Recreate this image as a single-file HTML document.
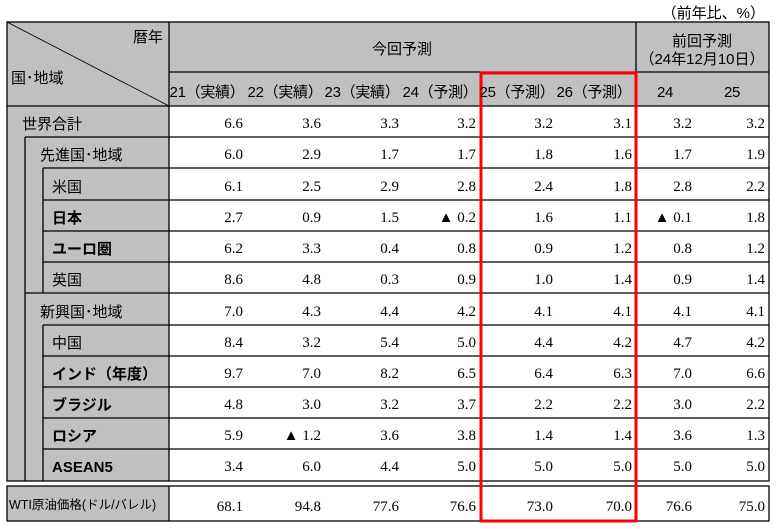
<!DOCTYPE html>
<html><head><meta charset="utf-8"><style>
html,body{margin:0;padding:0;background:#fff;}
svg{display:block;}
.j{font-family:"Liberation Sans","Noto Sans CJK JP",sans-serif;font-size:15px;fill:#000;}
.b{font-weight:bold;}
.n{font-family:"Liberation Serif","Noto Serif CJK SC",serif;font-size:15px;fill:#000;text-anchor:end;}
</style></head><body>
<svg width="779" height="529" viewBox="0 0 779 529" xmlns="http://www.w3.org/2000/svg">
<rect x="7" y="22" width="762" height="84" fill="#c0c0c0"/>
<rect x="7" y="106" width="162" height="375" fill="#c0c0c0"/>
<rect x="7" y="486" width="162" height="35" fill="#c0c0c0"/>
<g stroke="#000" stroke-width="1.3" fill="none">
<rect x="7" y="22" width="762" height="459"/>
<rect x="7" y="486" width="762" height="35"/>
<line x1="169" y1="22" x2="169" y2="481"/>
<line x1="169" y1="486" x2="169" y2="521"/>
<line x1="636" y1="22" x2="636" y2="481"/>
<line x1="636" y1="486" x2="636" y2="521"/>
<line x1="169" y1="72" x2="769" y2="72"/>
<line x1="7" y1="106" x2="769" y2="106"/>
<line x1="7" y1="22" x2="169" y2="106" stroke-width="0.8"/>
<line x1="25" y1="137" x2="25" y2="481"/>
<line x1="43" y1="168" x2="43" y2="293"/>
<line x1="43" y1="325" x2="43" y2="481"/>
<line x1="25" y1="137" x2="769" y2="137"/>
<line x1="43" y1="168" x2="769" y2="168"/>
<line x1="43" y1="200" x2="769" y2="200"/>
<line x1="43" y1="231" x2="769" y2="231"/>
<line x1="43" y1="262" x2="769" y2="262"/>
<line x1="25" y1="293" x2="769" y2="293"/>
<line x1="43" y1="325" x2="769" y2="325"/>
<line x1="43" y1="356" x2="769" y2="356"/>
<line x1="43" y1="387" x2="769" y2="387"/>
<line x1="43" y1="418" x2="769" y2="418"/>
<line x1="43" y1="449" x2="769" y2="449"/>
</g>
<rect x="481" y="73" width="155" height="448" fill="none" stroke="#f00" stroke-width="3"/>
<text class="j" x="765" y="18" text-anchor="end">（前年比、%）</text>
<text class="j" x="163" y="42" text-anchor="end">暦年</text>
<text class="j" x="11" y="83">国･地域</text>
<text class="j" x="402" y="54" text-anchor="middle">今回予測</text>
<text class="j" x="702" y="46" text-anchor="middle">前回予測</text>
<text class="j" x="702" y="64" text-anchor="middle">（24年12月10日）</text>
<g class="j" text-anchor="middle" style="letter-spacing:-0.3px">
<text x="207" y="97">21（実績）</text>
<text x="285" y="97">22（実績）</text>
<text x="362" y="97">23（実績）</text>
<text x="440" y="97">24（予測）</text>
<text x="517" y="97">25（予測）</text>
<text x="594" y="97">26（予測）</text>
<text x="665" y="97">24</text>
<text x="732" y="97">25</text>
</g>
<g class="j">
<text x="22" y="129">世界合計</text>
<text x="40" y="160">先進国･地域</text>
<text x="52" y="192">米国</text>
<text class="j b" x="52" y="223">日本</text>
<text class="j b" x="52" y="254">ユーロ圏</text>
<text x="52" y="285">英国</text>
<text x="40" y="317">新興国･地域</text>
<text x="52" y="348">中国</text>
<text class="j b" x="52" y="379">インド（年度）</text>
<text class="j b" x="52" y="410">ブラジル</text>
<text class="j b" x="52" y="441">ロシア</text>
<text class="j b" x="52" y="472">ASEAN5</text>
<text x="9" y="509" style="font-size:12.5px">WTI原油価格(ドル/バレル)</text>
</g>
<g class="n">
<text y="128"><tspan x="243">6.6</tspan><tspan x="321">3.6</tspan><tspan x="399">3.3</tspan><tspan x="476">3.2</tspan><tspan x="553">3.2</tspan><tspan x="632">3.1</tspan><tspan x="692">3.2</tspan><tspan x="765">3.2</tspan></text>
<text y="159"><tspan x="243">6.0</tspan><tspan x="321">2.9</tspan><tspan x="399">1.7</tspan><tspan x="476">1.7</tspan><tspan x="553">1.8</tspan><tspan x="632">1.6</tspan><tspan x="692">1.7</tspan><tspan x="765">1.9</tspan></text>
<text y="191"><tspan x="243">6.1</tspan><tspan x="321">2.5</tspan><tspan x="399">2.9</tspan><tspan x="476">2.8</tspan><tspan x="553">2.4</tspan><tspan x="632">1.8</tspan><tspan x="692">2.8</tspan><tspan x="765">2.2</tspan></text>
<text y="222"><tspan x="243">2.7</tspan><tspan x="321">0.9</tspan><tspan x="399">1.5</tspan><tspan x="476">▲ 0.2</tspan><tspan x="553">1.6</tspan><tspan x="632">1.1</tspan><tspan x="692">▲ 0.1</tspan><tspan x="765">1.8</tspan></text>
<text y="253"><tspan x="243">6.2</tspan><tspan x="321">3.3</tspan><tspan x="399">0.4</tspan><tspan x="476">0.8</tspan><tspan x="553">0.9</tspan><tspan x="632">1.2</tspan><tspan x="692">0.8</tspan><tspan x="765">1.2</tspan></text>
<text y="284"><tspan x="243">8.6</tspan><tspan x="321">4.8</tspan><tspan x="399">0.3</tspan><tspan x="476">0.9</tspan><tspan x="553">1.0</tspan><tspan x="632">1.4</tspan><tspan x="692">0.9</tspan><tspan x="765">1.4</tspan></text>
<text y="316"><tspan x="243">7.0</tspan><tspan x="321">4.3</tspan><tspan x="399">4.4</tspan><tspan x="476">4.2</tspan><tspan x="553">4.1</tspan><tspan x="632">4.1</tspan><tspan x="692">4.1</tspan><tspan x="765">4.1</tspan></text>
<text y="347"><tspan x="243">8.4</tspan><tspan x="321">3.2</tspan><tspan x="399">5.4</tspan><tspan x="476">5.0</tspan><tspan x="553">4.4</tspan><tspan x="632">4.2</tspan><tspan x="692">4.7</tspan><tspan x="765">4.2</tspan></text>
<text y="378"><tspan x="243">9.7</tspan><tspan x="321">7.0</tspan><tspan x="399">8.2</tspan><tspan x="476">6.5</tspan><tspan x="553">6.4</tspan><tspan x="632">6.3</tspan><tspan x="692">7.0</tspan><tspan x="765">6.6</tspan></text>
<text y="409"><tspan x="243">4.8</tspan><tspan x="321">3.0</tspan><tspan x="399">3.2</tspan><tspan x="476">3.7</tspan><tspan x="553">2.2</tspan><tspan x="632">2.2</tspan><tspan x="692">3.0</tspan><tspan x="765">2.2</tspan></text>
<text y="440"><tspan x="243">5.9</tspan><tspan x="321">▲ 1.2</tspan><tspan x="399">3.6</tspan><tspan x="476">3.8</tspan><tspan x="553">1.4</tspan><tspan x="632">1.4</tspan><tspan x="692">3.6</tspan><tspan x="765">1.3</tspan></text>
<text y="471"><tspan x="243">3.4</tspan><tspan x="321">6.0</tspan><tspan x="399">4.4</tspan><tspan x="476">5.0</tspan><tspan x="553">5.0</tspan><tspan x="632">5.0</tspan><tspan x="692">5.0</tspan><tspan x="765">5.0</tspan></text>
<text y="511"><tspan x="243">68.1</tspan><tspan x="321">94.8</tspan><tspan x="399">77.6</tspan><tspan x="476">76.6</tspan><tspan x="553">73.0</tspan><tspan x="632">70.0</tspan><tspan x="692">76.6</tspan><tspan x="765">75.0</tspan></text>
</g>
</svg>
</body></html>
